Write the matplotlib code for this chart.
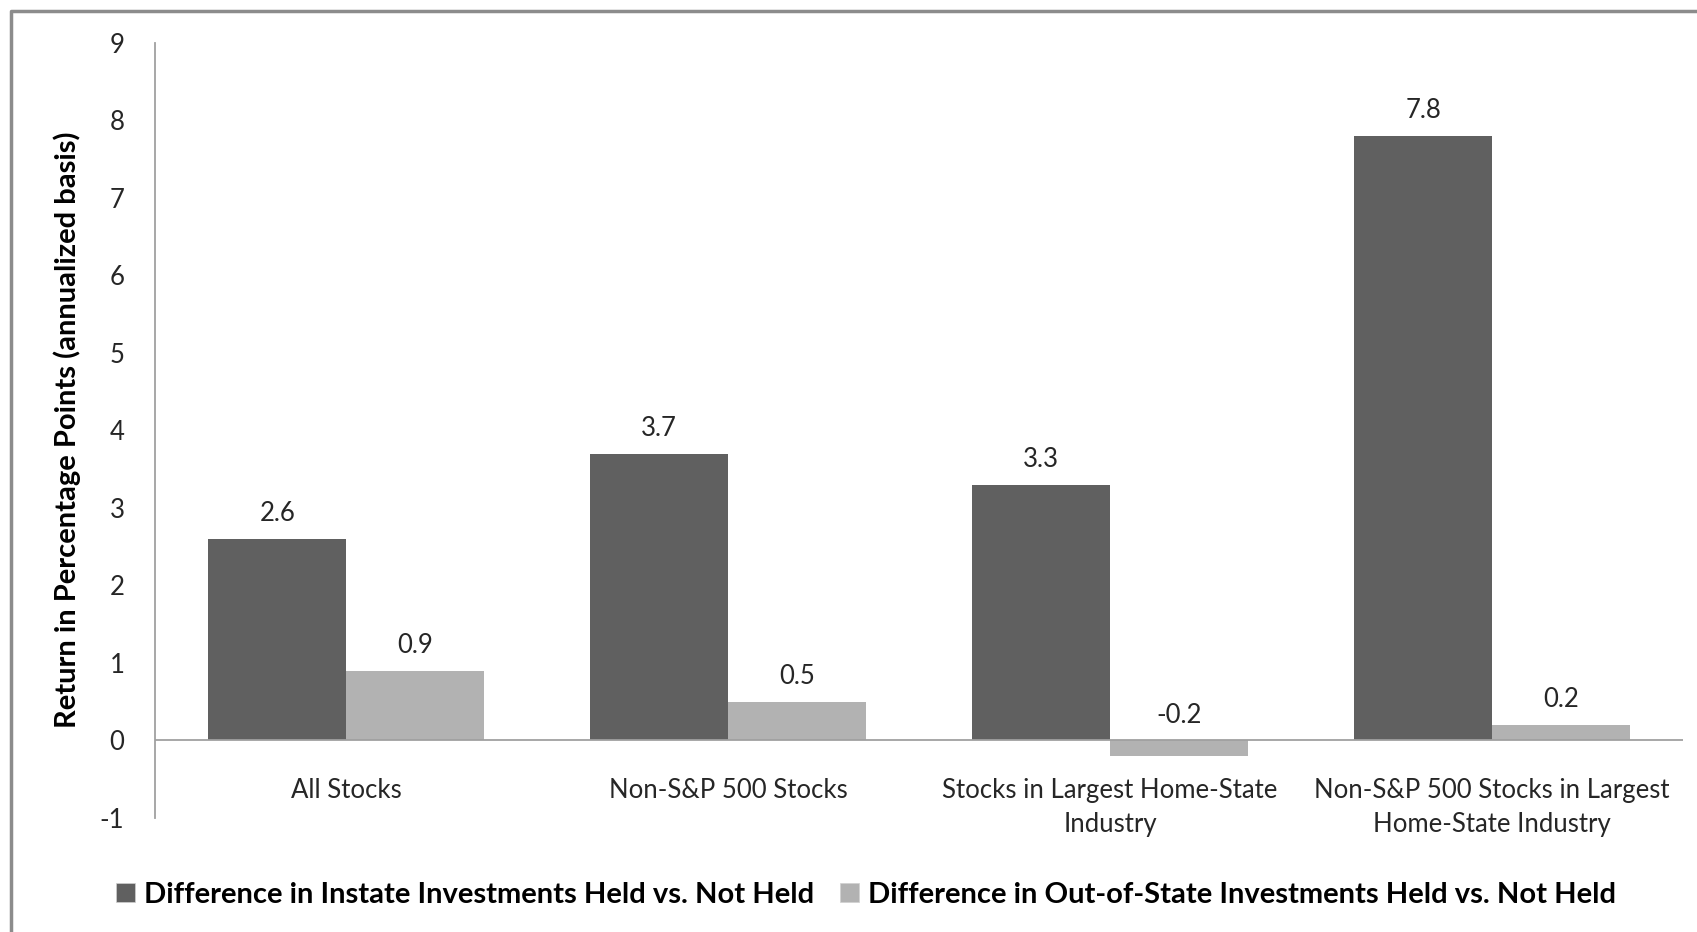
import matplotlib
matplotlib.use("Agg")
import matplotlib.pyplot as plt
from matplotlib.patches import Patch
from matplotlib.lines import Line2D
import numpy as np

categories = [
    "All Stocks",
    "Non-S&P 500 Stocks",
    "Stocks in Largest Home-State\nIndustry",
    "Non-S&P 500 Stocks in Largest\nHome-State Industry",
]
instate = [2.6, 3.7, 3.3, 7.8]
out_of_state = [0.9, 0.5, -0.2, 0.2]
series_names = [
    "Difference in Instate Investments Held vs. Not Held",
    "Difference in Out-of-State Investments Held vs. Not Held",
]
y_ticks = list(range(-1, 10))

DARK = "#606060"
LIGHT = "#b2b2b2"
AXIS_GRAY = "#a0a0a0"
TXT = "#262626"

plt.rcParams["font.family"] = ["Lato", "DejaVu Sans"]
plt.rcParams["axes.unicode_minus"] = False

fig = plt.figure(figsize=(16.97, 9.32), dpi=100)
ax = fig.add_axes([155 / 1697, 1 - 818 / 932, (1683 - 155) / 1697, (818 - 42.7) / 932])

x = np.arange(len(categories))
w = 0.36
ax.bar(x - w / 2, instate, w, color=DARK, zorder=2)
ax.bar(x + w / 2, out_of_state, w, color=LIGHT, zorder=2)

for xs, vals in ((x - w / 2, instate), (x + w / 2, out_of_state)):
    for xi, v in zip(xs, vals):
        ax.annotate(f"{v:.1f}", (xi, max(v, 0)), textcoords="offset points",
                    xytext=(0, 18), ha="center", va="center",
                    fontsize=18.5, color=TXT)

ax.axhline(0, color=AXIS_GRAY, lw=1.3, zorder=3)

for xi, lab in zip(x, categories):
    ax.annotate(lab, (xi, 0), textcoords="offset points", xytext=(0, -27),
                ha="center", va="top", fontsize=18.5, color=TXT,
                linespacing=1.47)

ax.set_xlim(-0.5, len(categories) - 0.5)
ax.set_ylim(-1, 9)
ax.set_yticks(y_ticks)
ax.set_xticks([])
ax.tick_params(axis="y", length=0, pad=22, labelsize=18.5, labelcolor=TXT)
for s in ("top", "right", "bottom"):
    ax.spines[s].set_visible(False)
ax.spines["left"].set_color(AXIS_GRAY)
ax.spines["left"].set_linewidth(1.3)

fig.text(67 / 1697, 1 - 430 / 932, "Return in Percentage Points (annualized basis)",
         rotation=90, ha="center", va="center", fontsize=21,
         fontweight="bold", color="black")

handles = [Patch(facecolor=DARK, edgecolor="#d0d0d0", lw=0.5),
           Patch(facecolor=LIGHT, edgecolor="#d0d0d0", lw=0.5)]
fig.legend(handles, series_names, loc="center", ncol=2,
           bbox_to_anchor=(866 / 1697, 1 - 895 / 932), frameon=False,
           handlelength=0.65, handleheight=0.65, handletextpad=0.3,
           columnspacing=0.9, prop={"size": 21, "weight": "bold"})

# outer chart frame (top and left edges only visible in the crop)
fig.add_artist(Line2D([11 / 1697, 11 / 1697, 1], [0, 1 - 11 / 932, 1 - 11 / 932],
                      transform=fig.transFigure, color="#8c8c8c", lw=2.5))

fig.savefig("out.png", dpi=100)
